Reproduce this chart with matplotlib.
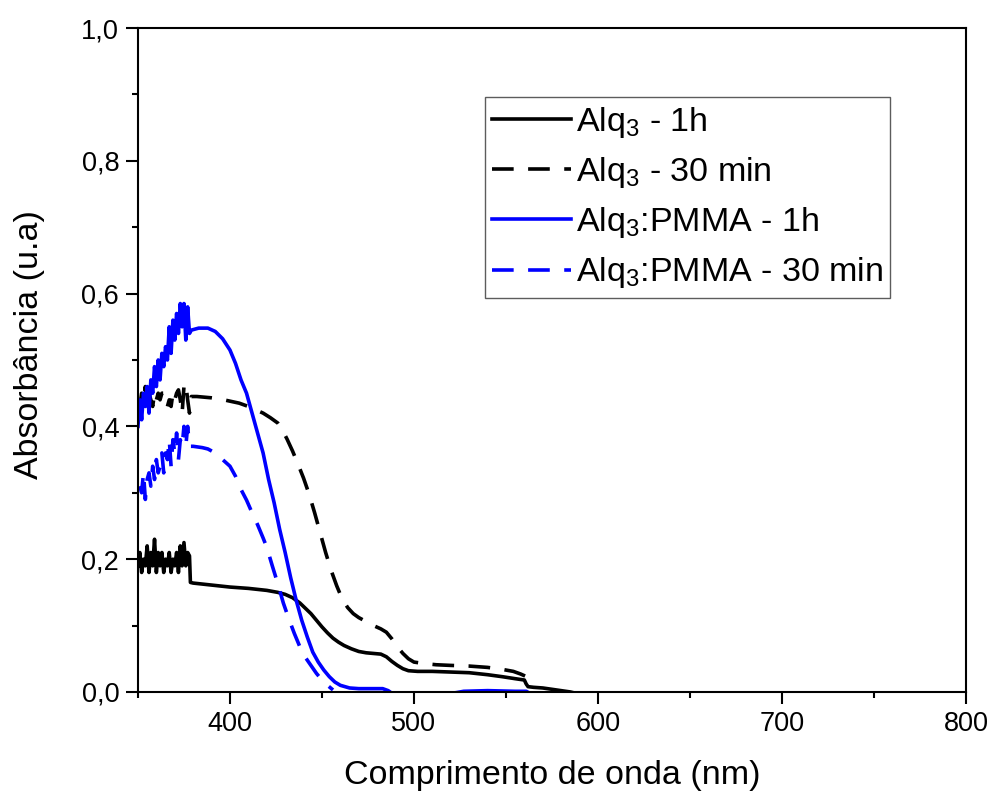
import numpy as np
import matplotlib
matplotlib.use('Agg')
import matplotlib.pyplot as plt
from matplotlib.ticker import MultipleLocator

plt.rcParams['font.family'] = ['Liberation Sans', 'DejaVu Sans']
plt.rcParams['mathtext.fontset'] = 'custom'
plt.rcParams['mathtext.rm'] = 'Liberation Sans'
plt.rcParams['mathtext.it'] = 'Liberation Sans:italic'

# Alq3 - 1h (black solid)
x_alq_1h = [350, 351, 352, 353, 354, 355, 356, 357, 358, 359, 360, 361, 362, 363, 364, 365,
            366, 367, 368, 369, 370, 371, 372, 373, 374, 375, 376, 377, 378, 378.5, 380, 390,
            400, 410, 420, 426, 430, 434, 438, 441, 444, 447, 450, 453, 456, 459, 462, 466,
            470, 474, 478, 482, 485, 488, 491, 494, 497, 502, 510, 520, 530, 540, 548, 555,
            560, 561, 562, 565, 570, 575, 580, 585, 588]
y_alq_1h = [0.19, 0.21, 0.18, 0.20, 0.19, 0.22, 0.18, 0.21, 0.19, 0.23, 0.18, 0.21, 0.19, 0.21,
            0.18, 0.20, 0.19, 0.21, 0.18, 0.20, 0.19, 0.21, 0.18, 0.22, 0.19, 0.225, 0.19, 0.21,
            0.205, 0.165, 0.164, 0.161, 0.158, 0.156, 0.153, 0.150, 0.147, 0.142, 0.134, 0.126,
            0.118, 0.108, 0.098, 0.089, 0.081, 0.075, 0.070, 0.065, 0.061, 0.059, 0.058, 0.057,
            0.053, 0.046, 0.040, 0.035, 0.032, 0.031, 0.031, 0.030, 0.029, 0.026, 0.023, 0.020,
            0.018, 0.012, 0.008, 0.007, 0.006, 0.004, 0.002, 0.0, -0.002]

# Alq3 - 30 min (black dashed)
x_alq_30 = [350, 351, 352, 353, 354, 355, 356, 357, 358, 359, 360, 361, 362, 363, 364, 365,
            366, 367, 368, 369, 370, 371, 372, 373, 374, 375, 376, 377, 378, 379, 382, 386,
            390, 395, 400, 405, 410, 414, 418, 422, 426, 428, 431, 434, 437, 440, 443, 446,
            449, 452, 455, 458, 461, 464, 467, 470, 474, 478, 482, 485, 488, 491, 494, 497,
            500, 505, 512, 520, 530, 540, 548, 554, 558, 562]
y_alq_30 = [0.44, 0.43, 0.45, 0.44, 0.46, 0.43, 0.45, 0.44, 0.43, 0.45, 0.44, 0.45, 0.44, 0.45,
            0.45, 0.44, 0.43, 0.44, 0.43, 0.45, 0.44, 0.45, 0.455, 0.44, 0.42, 0.46, 0.465, 0.44,
            0.42, 0.445, 0.445, 0.444, 0.443, 0.441, 0.438, 0.435, 0.430, 0.425, 0.420, 0.413,
            0.405, 0.397, 0.381, 0.363, 0.343, 0.322, 0.298, 0.270, 0.240, 0.210, 0.183, 0.160,
            0.140, 0.127, 0.118, 0.112, 0.106, 0.100, 0.095, 0.090, 0.080, 0.068, 0.058, 0.050,
            0.045, 0.043, 0.041, 0.040, 0.039, 0.037, 0.034, 0.031, 0.027, 0.022]

# Alq3:PMMA - 1h (blue solid)
x_pmma_1h = [350, 351, 352, 353, 354, 355, 356, 357, 358, 359, 360, 361, 362, 363, 364, 365,
             366, 367, 368, 369, 370, 371, 372, 373, 374, 375, 376, 377, 378, 379, 383, 388,
             392, 396, 400, 403, 406, 409, 412, 415, 418, 421, 424, 427, 430, 433, 436, 439,
             442, 445, 448, 451, 454, 457, 460, 465, 470, 478, 483, 486, 488, 500, 515, 523,
             527, 540, 555, 561, 563]
y_pmma_1h = [0.40, 0.44, 0.41, 0.45, 0.43, 0.46, 0.42, 0.47, 0.45, 0.49, 0.46, 0.50, 0.47, 0.51,
             0.49, 0.52, 0.50, 0.55, 0.51, 0.56, 0.53, 0.57, 0.54, 0.585, 0.55, 0.585, 0.53, 0.58,
             0.54, 0.545, 0.548, 0.548, 0.543, 0.532, 0.515, 0.495, 0.470, 0.450, 0.420, 0.390,
             0.360, 0.320, 0.285, 0.245, 0.210, 0.172, 0.138, 0.108, 0.083, 0.060, 0.045, 0.033,
             0.023, 0.015, 0.010, 0.006, 0.005, 0.005, 0.005, 0.002, -0.002, -0.005, -0.004,
             -0.001, 0.001, 0.002, 0.001, 0.001, -0.002]

# Alq3:PMMA - 30 min (blue dashed)
x_pmma_30 = [351, 352, 353, 354, 355, 356, 357, 358, 359, 360, 361, 362, 363, 364, 365, 366,
             367, 368, 369, 370, 371, 372, 373, 374, 375, 376, 377, 378, 380, 385, 388, 392,
             396, 400, 403, 406, 409, 412, 415, 418, 420, 423, 426, 429, 432, 435, 438, 441,
             444, 447, 450, 453, 456]
y_pmma_30 = [0.31, 0.30, 0.33, 0.29, 0.32, 0.33, 0.31, 0.34, 0.32, 0.35, 0.33, 0.34, 0.36, 0.33,
             0.36, 0.35, 0.38, 0.34, 0.38, 0.36, 0.39, 0.35, 0.38, 0.37, 0.40, 0.37, 0.40, 0.37,
             0.370, 0.368, 0.366, 0.360, 0.350, 0.340, 0.325, 0.305, 0.289, 0.270, 0.252, 0.232,
             0.218, 0.190, 0.163, 0.134, 0.110, 0.088, 0.068, 0.052, 0.040, 0.028, 0.018, 0.010,
             0.003]

y_ticks = [0.0, 0.2, 0.4, 0.6, 0.8, 1.0]
y_ticklabels = ['0,0', '0,2', '0,4', '0,6', '0,8', '1,0']
x_ticks = [400, 500, 600, 700, 800]

fig = plt.figure(figsize=(9.89, 7.96), dpi=100)
ax = fig.add_axes([0.1395, 0.1307, 0.8372, 0.8341])

lw = 2.6
ax.plot(x_alq_1h, y_alq_1h, color='black', lw=lw, label=r'Alq$_3$ - 1h')
ax.plot(x_alq_30, y_alq_30, color='black', lw=lw, dashes=(6, 4), label=r'Alq$_3$ - 30 min')
ax.plot(x_pmma_1h, y_pmma_1h, color='#0000ff', lw=lw, label=r'Alq$_3$:PMMA - 1h')
ax.plot(x_pmma_30, y_pmma_30, color='#0000ff', lw=lw, dashes=(6, 4), label=r'Alq$_3$:PMMA - 30 min')

ax.set_xlim(350, 800)
ax.set_ylim(0, 1.0)
ax.set_xticks(x_ticks)
ax.set_yticks(y_ticks)
ax.set_yticklabels(y_ticklabels)
ax.xaxis.set_minor_locator(MultipleLocator(50))
ax.yaxis.set_minor_locator(MultipleLocator(0.1))
ax.tick_params(which='major', direction='out', length=8.5, width=1.5, labelsize=19.5, pad=5)
ax.tick_params(which='minor', direction='out', length=4.3, width=1.5)
ax.tick_params(top=False, right=False)
for s in ax.spines.values():
    s.set_linewidth(1.5)

ax.set_xlabel('Comprimento de onda (nm)', fontsize=24.5, labelpad=17)
ax.set_ylabel('Absorbância (u.a)', fontsize=24.5)
ax.yaxis.set_label_coords(-0.112, 0.523)

leg = ax.legend(loc='upper left', bbox_to_anchor=(0.419, 0.896), borderaxespad=0,
                fontsize=24.5, frameon=True, fancybox=False, handlelength=2.3,
                handletextpad=0.15, labelspacing=0.45, borderpad=0.22)
leg.get_frame().set_edgecolor('#333333')
leg.get_frame().set_linewidth(1.0)

fig.savefig('out.png', dpi=100)
